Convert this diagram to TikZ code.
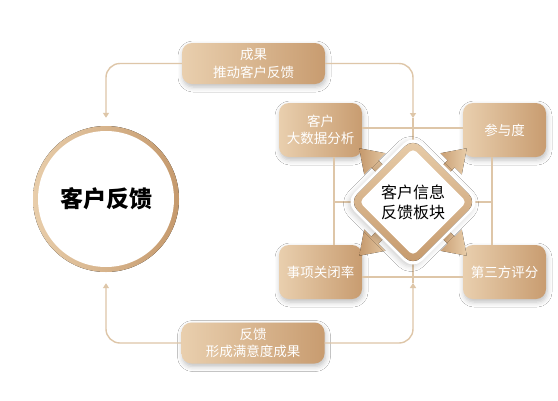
\documentclass[tikz,border=0pt]{standalone}
\usepackage{fontspec}
\setmainfont{Noto Sans CJK SC}
\usetikzlibrary{arrows.meta,shadows.blur}
\definecolor{bl}{HTML}{E9CFAE}
\definecolor{bd}{HTML}{C89C70}
\definecolor{ln}{HTML}{DEC6A8}
\definecolor{rl}{HTML}{E8CDAA}
\definecolor{rd}{HTML}{C5996C}
\begin{document}
\begin{tikzpicture}[x=1pt,y=-1pt,
  box/.style={rectangle, rounded corners=10pt, shading=axis, left color=bl, right color=bd,
    text=white, font=\fontsize{13.5}{17.5}\selectfont, align=center, inner sep=0pt,
    blur shadow={shadow xshift=1pt, shadow yshift=-3pt, shadow blur radius=5pt, shadow opacity=25}},
  wide/.style={box, minimum width=143pt, minimum height=41pt},
  small/.style={box, minimum width=83pt, minimum height=54pt},
  conn/.style={draw=ln, line width=1.4pt, rounded corners=14pt},
  tipped/.style={-{Triangle[width=6pt,length=5pt]}},
  gridline/.style={draw=ln, line width=1.4pt},
  darrow/.style={shading=axis, left color=rd, right color=rl},
]
\useasboundingbox (0,0) rectangle (558,400);
\fill[white] (0,0) rectangle (558,400);

% boxes
\node[wide] (top) at (253.5,63.5) {成果\\推动客户反馈};
\node[wide] (bot) at (253,343) {反馈\\形成满意度成果};
\node[small] (b1) at (320.5,130) {客户\\大数据分析};
\node[small] (b2) at (504.5,130) {参与度};
\node[small] (b3) at (320.5,272) {事项关闭率};
\node[small] (b4) at (504.5,272) {第三方评分};

% circle
\fill[shading=axis, left color=rl, right color=rd] (106,199) circle (73);
\fill[white] (106,199) circle (68);
\node[circle, minimum size=146pt, inner sep=0pt, font=\fontsize{23}{26}\selectfont\bfseries] (fb) at (106,199) {客户反馈};

% diamond placeholder
\node[minimum width=124pt, minimum height=120pt, inner sep=0pt] (dm) at (413,202) {};
\coordinate (ta) at (413,118);
\coordinate (ba) at (413,283);

% connectors
\draw[conn, tipped] (top.east) -| (ta);
\draw[conn, tipped] (top.west) -| ([yshift=8pt]fb.north);
\draw[conn, tipped] (bot.west) -| ([yshift=-11pt]fb.south);
\draw[conn, tipped] (bot.east) -| (ba);

% grid lines
\draw[gridline] ([yshift=2pt]b1.east) -- ([yshift=2pt]b2.west);
\draw[gridline] (ta) -- (dm.north);
\draw[gridline] ([xshift=13.5pt]b1.south) -- ([xshift=13.5pt]b3.north);
\draw[gridline] ([xshift=-12.5pt]b2.south) -- ([xshift=-12.5pt]b4.north);
\draw[gridline] ([xshift=13.5pt]b1.south |- dm.center) -- ([xshift=-12.5pt]b2.south |- dm.center);
\draw[gridline] ([yshift=-5pt]b3.east) -- ([yshift=-5pt]b4.west);
\draw[gridline] (ba) -- (dm.south);

% diamond graphics
\begin{scope}[shift={(413,202)}]
  \foreach \a in {45,135,225,315}{
    \fill[darrow, rotate=\a] (38,-5) -- (54,-5) -- (54,-15) -- (76,0) -- (54,15) -- (54,5) -- (38,5) -- cycle;
  }
  \begin{scope}[rotate=45]
    \fill[white, rounded corners=13pt, blur shadow={shadow xshift=-2pt, shadow yshift=-2pt, shadow blur radius=5pt, shadow opacity=18}] (-48,-48) rectangle (48,48);
    \fill[shading=axis, top color=rl, bottom color=rd, rounded corners=11pt] (-45,-45) rectangle (45,45);
    \fill[white, rounded corners=5pt] (-38,-38) rectangle (38,38);
  \end{scope}
\end{scope}
\node[align=center, font=\fontsize{16}{20}\selectfont, inner sep=0pt] (dmtext) at (dm.center) {客户信息\\反馈板块};
\end{tikzpicture}
\end{document}
